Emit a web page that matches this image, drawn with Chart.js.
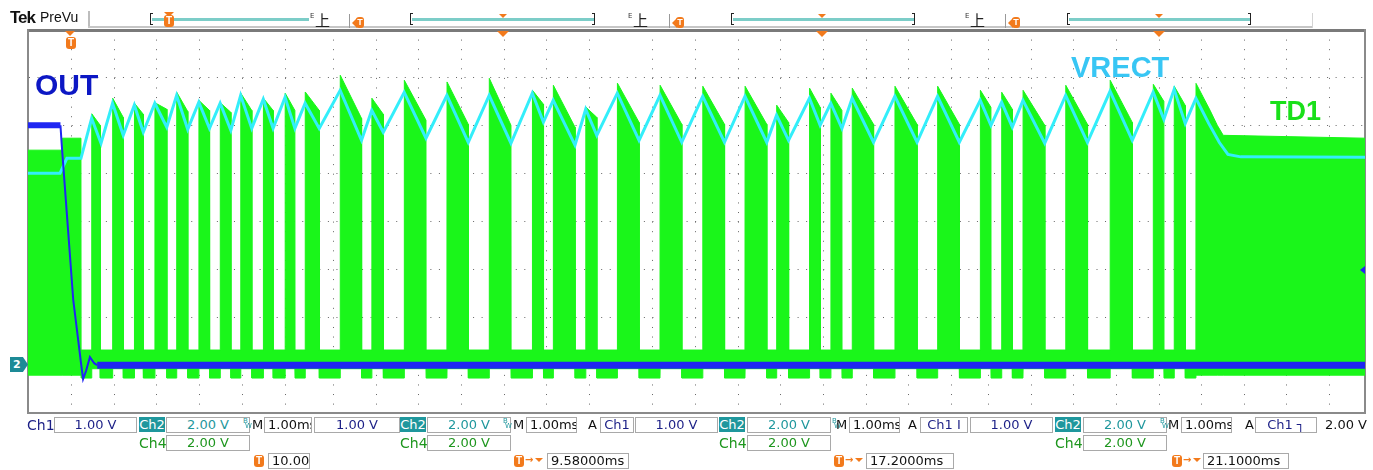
<!DOCTYPE html>
<html><head><meta charset="utf-8">
<script src="https://cdn.jsdelivr.net/npm/chart.js@4.4.1/dist/chart.umd.min.js"></script>
<style>
html,body{margin:0;padding:0;background:#fff;}
#wrap{position:relative;width:1373px;height:470px;overflow:hidden;}
#c{position:absolute;left:0;top:0;}
</style></head>
<body><div id="wrap"><canvas id="c" width="1373" height="470"></canvas></div>
<script>
// ---------- DATA (time in ms across the stitched record, volts) ----------
// vertical graticule positions (ms)
const gridDivX = [1.02,2.02,3.02,4.02,5.02,6.02,7.15,8.15,9.15,10.15,11.15,12.15,13.15,14.63,15.63,16.63,17.63,18.63,19.63,20.63,21.62,22.49,23.49,24.49,25.49,26.49,27.49,28.49,29.48,30.48];

// Ch1 OUT (1 V/div)
const outT = [0, 0.76, 0.79, 1.06, 1.24, 1.29, 1.36, 1.45, 1.55, 1.62, 31.31];
const outV = [5.01, 5.01, 4.60, 1.36, 0.05, -0.29, -0.12, 0.17, 0.04, 0.0, 0.0];

// Ch2 VRECT (2 V/div)
const vrectT = [0,0.75,0.91,1.24,1.49,1.71,1.98,2.23,2.49,2.70,2.97,3.25,3.48,3.74,4.00,4.25,4.50,4.75,4.98,5.24,5.51,5.74,6.02,6.25,6.49,6.82,7.31,7.81,8.05,8.32,8.81,9.32,9.81,10.31,10.80,11.31,11.81,12.07,12.30,12.81,13.06,13.32,13.80,14.31,14.80,15.31,15.80,16.31,16.79,17.30,17.53,17.81,18.30,18.55,18.80,19.06,19.30,19.80,20.30,20.82,21.30,21.81,22.30,22.55,22.80,23.05,23.30,23.81,24.30,24.81,25.34,25.86,26.35,26.60,26.84,27.10,27.35,27.65,27.90,28.10,28.40,31.31];
const vrectV = [8.02,8.02,8.64,8.64,10.31,9.27,10.94,9.60,10.86,9.73,10.94,9.94,11.27,9.85,10.98,9.89,10.94,9.81,11.27,9.89,11.11,9.89,11.19,9.89,10.94,9.89,11.48,9.39,10.65,9.73,11.40,9.48,11.27,9.31,11.27,9.27,11.36,10.15,11.06,9.19,10.69,9.60,11.36,9.39,11.27,9.31,11.23,9.31,11.23,9.31,10.44,9.39,11.15,10.02,10.94,9.89,11.15,9.31,11.23,9.31,11.23,9.31,11.06,10.02,10.98,9.94,11.06,9.27,11.27,9.31,11.44,9.39,11.40,10.27,11.52,10.10,11.15,10.10,9.30,8.80,8.70,8.68];

// Ch4 TD1 (2 V/div) switching bursts
const burstStart = [1.49,1.98,2.49,2.97,3.48,4.00,4.50,4.98,5.51,6.02,6.49,7.31,8.05,8.81,9.81,10.80,11.81,12.30,13.06,13.80,14.80,15.80,16.79,17.53,18.30,18.80,19.30,20.30,21.30,22.30,22.80,23.30,24.30,25.34,26.35,26.84];
const burstEnd   = [1.69,2.23,2.70,3.25,3.74,4.25,4.75,5.24,5.74,6.25,6.82,7.81,8.32,9.32,10.31,11.31,12.07,12.81,13.32,14.31,15.31,16.31,17.30,17.81,18.55,19.06,19.80,20.82,21.81,22.55,23.05,23.81,24.81,25.86,26.60,27.10];
const burstTopStart = [10.50,11.15,10.94,10.96,11.40,11.06,10.96,11.36,11.15,11.36,11.41,12.11,11.15,11.90,11.83,11.98,11.48,11.69,10.78,11.78,11.69,11.65,11.65,10.86,11.57,11.36,11.57,11.65,11.65,11.48,11.40,11.48,11.69,11.90,11.73,11.65];
const burstTopEnd   = [10.02,10.35,10.48,10.69,10.60,10.64,10.56,10.64,10.64,10.64,10.64,10.31,10.48,10.23,10.06,10.02,10.90,9.94,10.35,10.14,10.06,10.06,10.06,10.14,10.77,10.64,10.06,10.06,10.06,10.77,10.69,10.02,10.06,10.14,11.02,10.85];
const td1PreT   = [0, 0.80, 1.24];
const td1PreTop = [8.98, 9.48];
const td1FinalT   = [27.35, 27.68, 27.85, 27.99, 31.31];
const td1FinalTop = [11.77, 10.65, 10.02, 9.60, 9.48];
const td1GapTop = 0.63, td1GapLow = -0.54, td1BurstLow = -0.15, td1PreLow = -0.42;

// ---------- build envelopes ----------
const up = [], lo = [];
function P(x, u, l){ up.push({x:x, y:u}); lo.push({x:x, y:l}); }
P(td1PreT[0], td1PreTop[0], td1PreLow);
P(td1PreT[1], td1PreTop[0], td1PreLow);
P(td1PreT[1]+0.003, td1PreTop[1], td1PreLow);
P(td1PreT[2], td1PreTop[1], td1PreLow);
P(td1PreT[2]+0.003, td1GapTop, td1GapLow);
for (let i=0;i<burstStart.length;i++){
  P(burstStart[i], td1GapTop, td1GapLow);
  P(burstStart[i]+0.003, burstTopStart[i], td1BurstLow);
  P(burstEnd[i], burstTopEnd[i], td1BurstLow);
  P(burstEnd[i]+0.003, td1GapTop, td1GapLow);
}
P(td1FinalT[0], td1GapTop, td1GapLow);
for (let i=0;i<td1FinalT.length;i++){
  P(td1FinalT[i]+(i===0?0.003:0), td1FinalTop[i], td1PreLow);
}

const GREEN='rgb(26,246,26)';
new Chart(document.getElementById('c'), {
  type:'line',
  data:{datasets:[
    {label:'OUT', data: outT.map((t,i)=>({x:t,y:outV[i]})), yAxisID:'y1', borderColor:'#1f26f2', borderWidth:6, pointRadius:0, fill:false,
      segment:{borderWidth:c=>(c.p0DataIndex>=1 && c.p0DataIndex<=8) ? 2 : (c.p0DataIndex===0 ? 6 : 7)}},
    {label:'VRECT', data: vrectT.map((t,i)=>({x:t,y:vrectV[i]})), yAxisID:'y', borderColor:'#33eefa', borderWidth:3, pointRadius:0, fill:false},
    {label:'TD1', data: up, yAxisID:'y', borderColor:GREEN, backgroundColor:GREEN, borderWidth:1, pointRadius:0, fill:'+1'},
    {label:'TD1 low', data: lo, yAxisID:'y', borderColor:GREEN, borderWidth:1, pointRadius:0, fill:false}
  ]},
  options:{
    responsive:false, animation:false,
    layout:{padding:{left:28, right:8, top:30, bottom:57}},
    plugins:{legend:{display:false}, tooltip:{enabled:false}},
    elements:{line:{tension:0}, point:{radius:0}},
    scales:{
      x:{type:'linear', position:'bottom', min:0, max:31.31,
        afterBuildTicks:a=>{a.ticks = gridDivX.map(v=>({value:v}));},
        ticks:{display:false}, grid:{color:'#666', lineWidth:1, drawTicks:false},
        border:{display:true, color:'#8a8a8a', width:2, dash:[1,8.58]}},
      xTop:{type:'linear', position:'top', min:0, max:31.31, ticks:{display:false},
        grid:{display:false, drawTicks:false}, border:{display:true, color:'#7a7a7a', width:3}},
      y:{type:'linear', position:'left', min:-2, max:14, ticks:{display:false, stepSize:2},
        grid:{drawTicks:false, lineWidth:1, color:c=>(c.tick && (c.tick.value<=-2 || c.tick.value>=14)) ? 'rgba(0,0,0,0)' : '#666'},
        border:{display:true, color:'#8a8a8a', width:2, dash:[1,7.54]}},
      y1:{type:'linear', position:'right', min:-1, max:7, ticks:{display:false},
        grid:{display:false, drawTicks:false}, border:{display:true, color:'#8a8a8a', width:2}}
    }
  }
});

// ---------- text & scope decorations ----------
const W = document.getElementById('wrap');
function el(css, text){ const d=document.createElement('div'); d.style.cssText='position:absolute;white-space:nowrap;'+css; if(text!=null) d.textContent=text; W.appendChild(d); return d; }
const NAVY='#1b1f86', TEAL='#1f979d', DGRN='#1e961e', ORG='#f27a1c', DK='#111';
const F="'DejaVu Sans'";
function txt(x,y,t,c,s){ el(`left:${x}px;top:${y}px;font:${s||13}px ${F};line-height:1;color:${c||DK}`, t); }
function box(x,y,w,t,c,left){ el(`left:${x}px;top:${y}px;width:${w}px;height:16px;border:1px solid #a9a9a9;box-sizing:border-box;background:#fff;font:13px ${F};line-height:14px;color:${c||DK};overflow:hidden;`+(left?'text-align:left;padding-left:3px;':'text-align:center;'), t); }
function tag(x,y,t){ el(`left:${x}px;top:${y}px;width:26px;height:15px;background:${TEAL};color:#fff;font:13px ${F};line-height:15px;text-align:center`, t); }
function bw(x,y){ el(`left:${x}px;top:${y}px;font:7px ${F};color:${TEAL};line-height:1`,'B'); el(`left:${x+2}px;top:${y+5}px;font:7px ${F};color:${TEAL};line-height:1`,'W'); }
function tmark(x,y){ el(`left:${x}px;top:${y}px;width:10px;height:12px;border-radius:3px;background:${ORG};color:#fff;font:bold 10px 'Liberation Sans';line-height:12px;text-align:center`,'T'); }
function tri(x,y,s){ el(`left:${x}px;top:${y}px;width:0;height:0;border-left:${s}px solid transparent;border-right:${s}px solid transparent;border-top:${s}px solid ${ORG}`); }

// header
el(`left:10px;top:9px;font:bold 17px 'Liberation Sans';letter-spacing:-1px;line-height:1;color:${DK}`,'Tek');
el(`left:40px;top:10px;font:14px 'Liberation Sans';line-height:1;color:${DK}`,'PreVu');
el('left:88px;top:11px;width:2px;height:17px;background:#bdbdbd');
el('left:88px;top:26px;width:1224px;height:2px;background:#c6c6c6');
el('left:1312px;top:13px;width:1px;height:15px;background:#d4d4d4');
[[150,309,false],[410,594,true],[731,914,true],[1067,1250,true]].forEach(s=>{
  el(`left:${s[0]}px;top:13px;width:3px;height:12px;border:1px solid #222;border-right:none;box-sizing:border-box`);
  el(`left:${s[0]+2}px;top:18px;width:${s[1]-s[0]-2}px;height:3px;background:#7ccdc8`);
  if(s[2]) el(`left:${s[1]-2}px;top:13px;width:3px;height:12px;border:1px solid #222;border-left:none;box-sizing:border-box`);
});
[310,628,965].forEach(x=>{
  el(`left:${x}px;top:13px;font:7px ${F};line-height:1;color:#333`,'E');
  el(`left:${x+5}px;top:12px;font:15px 'Noto Sans CJK SC';line-height:1;color:#222`,'上');
});
[349,669,1005].forEach(x=>{
  el(`left:${x}px;top:14px;width:1px;height:14px;background:#999`);
  el(`left:${x+3}px;top:18px;width:0;height:0;border-top:5px solid transparent;border-bottom:5px solid transparent;border-right:5px solid ${ORG}`);
  el(`left:${x+7}px;top:17px;width:8px;height:11px;border-radius:3px;background:${ORG};color:#fff;font:bold 9px 'Liberation Sans';line-height:11px;text-align:center`,'T');
});
tri(164,12,5); tmark(164,15);
[503,822,1159].forEach(x=>{ tri(x-4,14,4); tri(x-6,31,6); });
tri(65,31,5); tmark(66,37);

// channel markers
el(`left:10px;top:357px;width:18px;height:15px;background:#1d8a96;color:#fff;font:bold 11px ${F};line-height:15px;text-indent:3px;clip-path:polygon(0 0,72% 0,100% 50%,72% 100%,0 100%)`,'2');
el(`left:1360px;top:266px;width:0;height:0;border-top:4px solid transparent;border-bottom:4px solid transparent;border-right:5px solid #1f26f2`);

// trace labels
el(`left:35px;top:70px;font:bold 30px 'Liberation Sans';line-height:1;color:#0c17c4`,'OUT');
el(`left:1071px;top:53px;font:bold 29px 'Liberation Sans';line-height:1;color:#38c6f4`,'VRECT');
el(`left:1270px;top:98px;font:bold 27px 'Liberation Sans';line-height:1;color:#19e019`,'TD1');

// status row 1
txt(27,418,'Ch1',NAVY,14); box(54,417,83,'1.00 V',NAVY); tag(139,417,'Ch2'); box(166,417,84,'2.00 V',TEAL);
bw(243,418); txt(252,418,'M'); box(264,417,48,'1.00ms',DK,true);
box(314,417,86,'1.00 V',NAVY); tag(400,417,'Ch2'); box(427,417,84,'2.00 V',TEAL);
bw(503,418); txt(513,418,'M'); box(526,417,51,'1.00ms',DK,true);
txt(588,418,'A'); box(600,417,34,'Ch1',NAVY); box(635,417,83,'1.00 V',NAVY); tag(719,417,'Ch2'); box(747,417,84,'2.00 V',TEAL);
bw(832,418); txt(836,418,'M'); box(849,417,51,'1.00ms',DK,true);
txt(908,418,'A'); box(920,417,48,'Ch1  I',NAVY); box(970,417,83,'1.00 V',NAVY); tag(1055,417,'Ch2'); box(1083,417,84,'2.00 V',TEAL);
bw(1160,418); txt(1168,418,'M'); box(1181,417,51,'1.00ms',DK,true);
txt(1245,418,'A'); box(1255,417,62,'Ch1  \u2510',NAVY); txt(1325,418,'2.00 V');
// status row 2
[[139,166],[400,427],[719,747],[1055,1083]].forEach(p=>{ txt(p[0],436,'Ch4',DGRN,14); box(p[1],435,84,'2.00 V',DGRN); });
// status row 3
tmark(254,455); box(268,453,42,'10.00',DK,true);
[[514,547,82,'9.58000ms'],[834,866,88,'17.2000ms'],[1172,1203,86,'21.1000ms']].forEach(p=>{
  tmark(p[0],455);
  el(`left:${p[0]+11}px;top:455px;font:bold 10px ${F};line-height:1;color:${ORG}`,'\u2192');
  tri(p[0]+21,458,4);
  box(p[1],453,p[2],p[3],DK,true);
});
</script>
</body></html>
